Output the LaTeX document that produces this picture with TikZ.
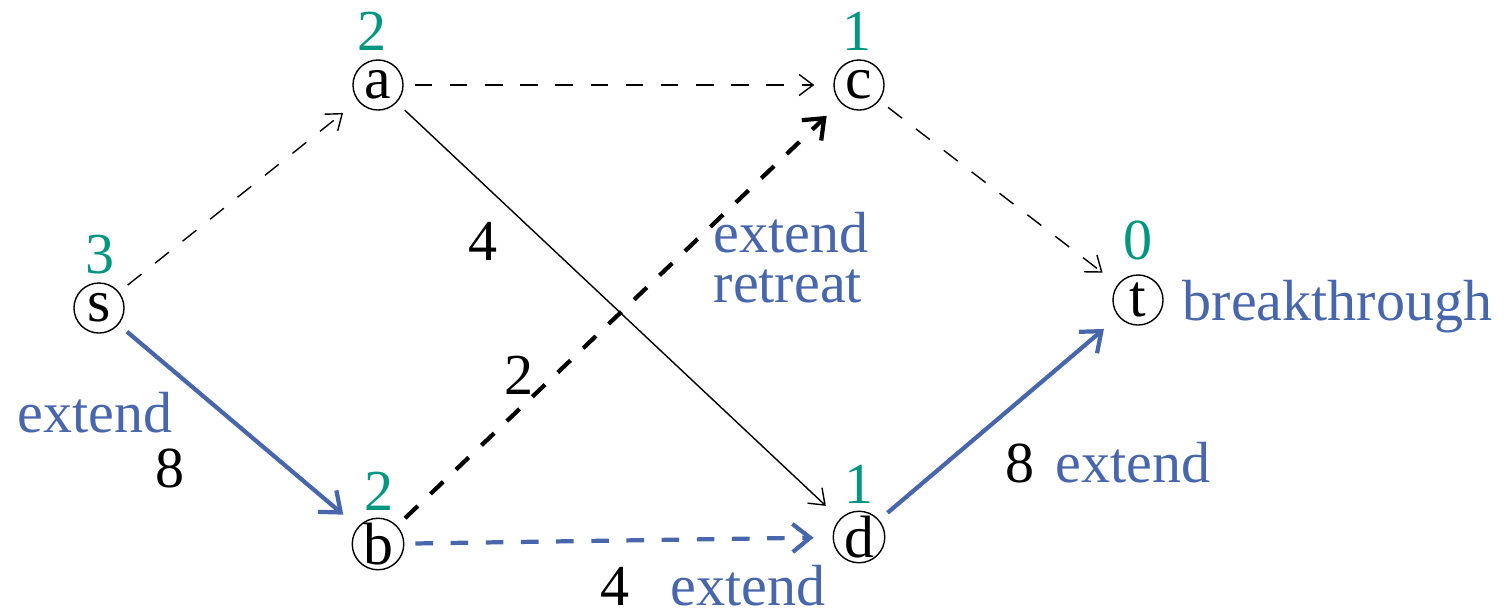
\documentclass[tikz,border=0pt]{standalone}
\usepackage{fontspec}
\setmainfont{Liberation Serif}
\usetikzlibrary{arrows.meta}
\definecolor{hgreen}{RGB}{0,150,128}
\definecolor{eblue}{RGB}{72,102,172}

\begin{document}
\begin{tikzpicture}[x=0.01cm,y=-0.01cm,
        vertex/.style={draw,circle,line width=0.4pt,minimum size=0.5cm,inner sep=0pt,font=\fontsize{17}{19}\selectfont},
        hgt/.style={text=hgreen,anchor=base,inner sep=0pt,font=\fontsize{16.5}{19}\selectfont},
        wt/.style={anchor=base,inner sep=0pt,font=\fontsize{16.5}{19}\selectfont},
        note/.style={text=eblue,anchor=base,inner sep=0pt,font=\fontsize{16.5}{19}\selectfont},
        thinarr/.style={line width=0.4pt,-{Straight Barb[length=4pt,width=6pt]},shorten <=0.11cm,shorten >=0.19cm},
        thickarr/.style={line width=1.2pt,-{Straight Barb[length=5pt,width=8pt]},shorten <=0.11cm,shorten >=0.19cm},
        dashes/.style={dash pattern=on 5pt off 5pt}]
    \useasboundingbox (0,0) rectangle (1504,614);

    % vertices
    \node[vertex] (s) at (99,308) {s};
    \node[vertex] (a) at (378,85) {a};
    \node[vertex] (c) at (859,85) {c};
    \node[vertex] (b) at (378,544) {b};
    \node[vertex] (d) at (859,537) {d};
    \node[vertex] (t) at (1138,300) {t};

    % heights
    \node[hgt] (hs) at (100,273) {3};
    \node[hgt] (ha) at (372,50) {2};
    \node[hgt] (hc) at (857,50) {1};
    \node[hgt] (hb) at (379,510) {2};
    \node[hgt] (hd) at (859,503) {1};
    \node[hgt] (ht) at (1138,259) {0};

    % arcs
    \draw[thinarr,dashes] (s) -- (a);
    \draw[thinarr,dashes] (a) -- (c);
    \draw[thinarr,dashes] (c) -- (t);
    \draw[thinarr] (a) -- (d);
    \draw[thickarr,eblue] (s) -- (b);
    \draw[thickarr,dashes] (b) -- (c);
    \draw[thickarr,dashes,eblue] (b) -- (d);
    \draw[thickarr,eblue] (d) -- (t);

    % capacities
    \node[wt] (w1) at (170,487) {8};
    \node[wt] (w2) at (483,260) {4};
    \node[wt] (w3) at (519,394) {2};
    \node[wt] (w4) at (615,605) {4};
    \node[wt] (w5) at (1020,482) {8};

    % operations
    \node[note] (o1) at (95,432) {extend};
    \node[note,anchor=base west] (o2) at (713,252) {extend};
    \node[note,anchor=base west] (o3) at (713,302) {retreat};
    \node[note] (o4) at (748,605) {extend};
    \node[note] (o5) at (1133,482) {extend};
    \node[note,anchor=base west] (o6) at (1182,320) {breakthrough};
\end{tikzpicture}
\end{document}
